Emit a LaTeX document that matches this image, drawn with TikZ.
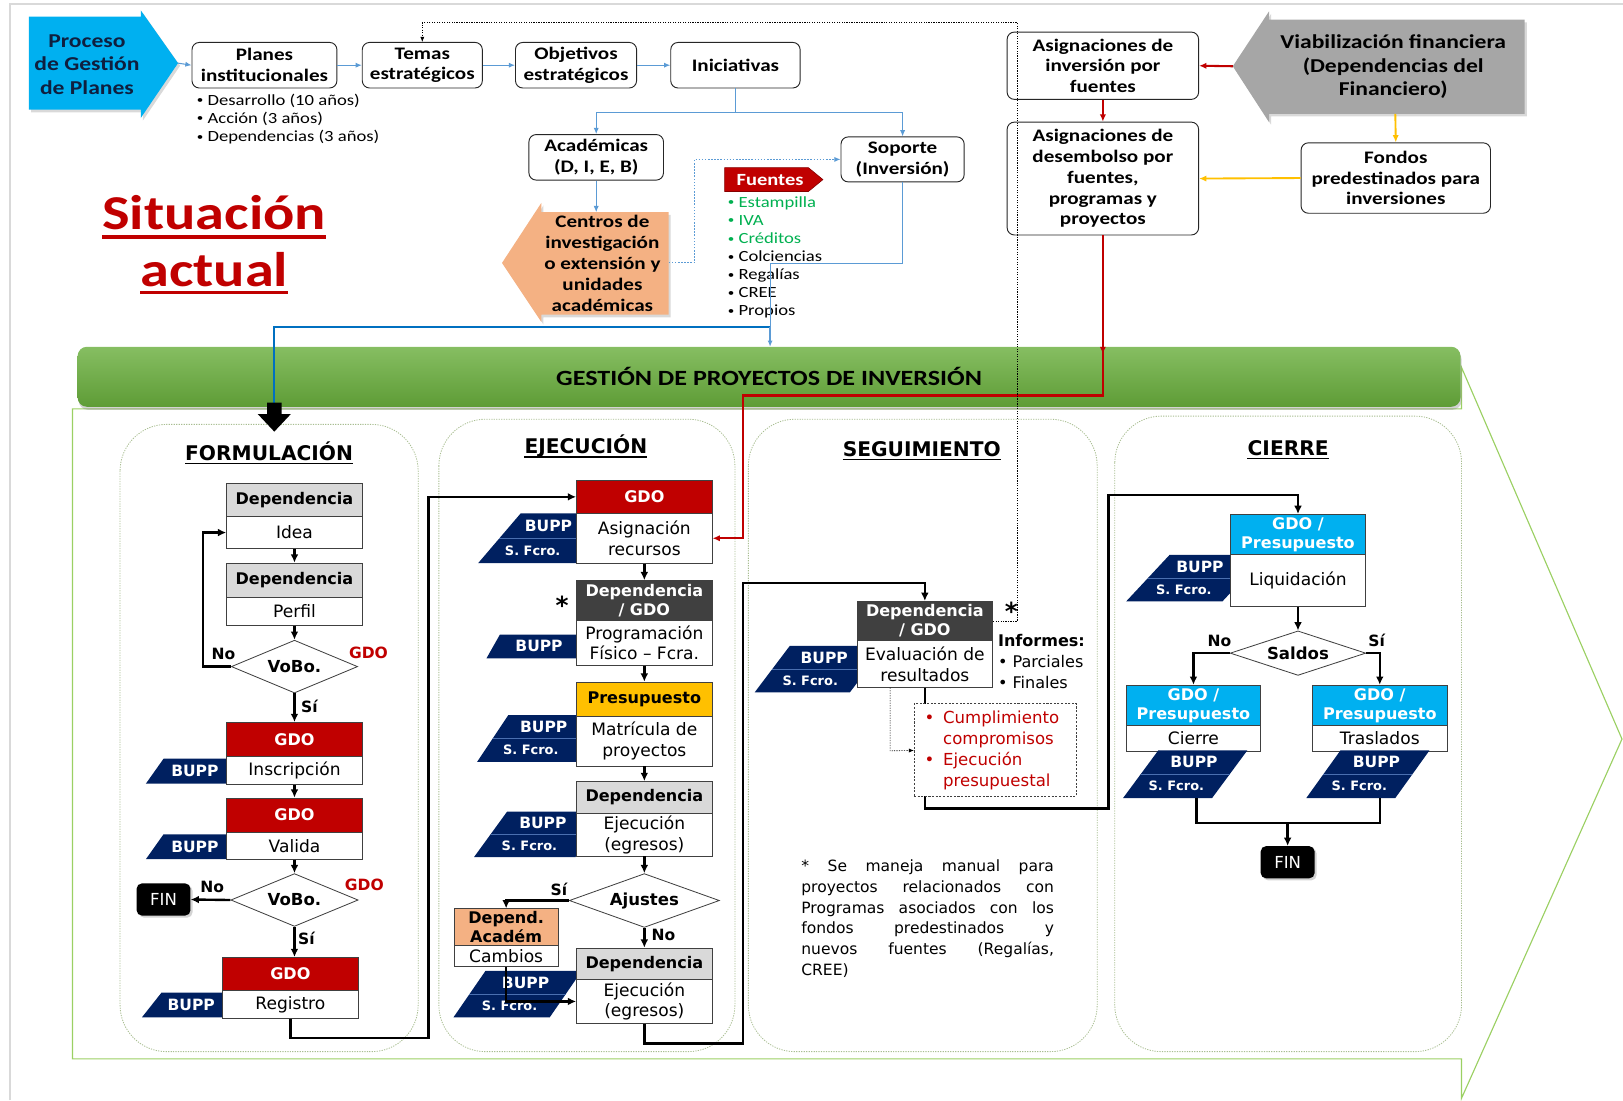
\documentclass[tikz,border=0pt]{standalone}
\usepackage{fontspec}
\setmainfont{Carlito}[FakeStretch=1.2]
\newfontfamily\verdfont{DejaVu Sans}
\usetikzlibrary{arrows.meta,shapes.geometric,shadows,calc}
\definecolor{cyanP}{HTML}{00B0F0}
\definecolor{redH}{HTML}{C00000}
\definecolor{grayH}{HTML}{D9D9D9}
\definecolor{darkH}{HTML}{404040}
\definecolor{yelH}{HTML}{FFC000}
\definecolor{navy}{HTML}{002060}
\definecolor{tagsepc}{HTML}{4A6FB0}
\definecolor{orangeA}{HTML}{F4B183}
\definecolor{greenT}{HTML}{00B050}
\definecolor{lblue}{HTML}{5B9BD5}
\definecolor{dblue}{HTML}{0070C0}
\definecolor{gbarT}{HTML}{86BE62}
\definecolor{gbarB}{HTML}{5E9C36}
\definecolor{gline}{HTML}{9BD063}
\definecolor{panel}{HTML}{A9BE92}
\definecolor{grayA}{HTML}{A6A6A6}
\definecolor{borderG}{HTML}{D9D9D9}
\definecolor{procT}{HTML}{0F1F3F}
\newcommand{\fsz}[2]{\fontsize{#1}{#2}\selectfont}
\newcommand{\sbul}{\raisebox{0.12em}{\scalebox{0.7}{•}}}
\tikzset{
 topbox/.style={draw=black!85, line width=0.9pt, rounded corners=7pt, fill=white, align=center, inner sep=0pt, font=\fsz{17}{20}\bfseries},
 barr/.style={draw=lblue, line width=1pt, -{Latex[length=6pt,width=5pt]}},
 blueline/.style={draw=lblue, line width=1pt},
 bluethick/.style={draw=dblue, line width=2.2pt},
 hdr/.style={draw=black!75, line width=0.8pt, inner sep=0pt, align=center, font=\verdfont\fsz{15.5}{18.5}\bfseries},
 hred/.style={hdr, fill=redH, text=white},
 hgray/.style={hdr, fill=grayH},
 hdark/.style={hdr, fill=darkH, text=white},
 hyel/.style={hdr, fill=yelH},
 hcyan/.style={hdr, fill=cyanP, text=white},
 horange/.style={hdr, fill=orangeA},
 bodybox/.style={draw=black!75, line width=0.8pt, fill=white, inner sep=0pt, align=center, font=\verdfont\fsz{16.5}{20}},
 flow/.style={draw=black, line width=2.3pt, -{Latex[length=8pt,width=7.5pt]}},
 flowline/.style={draw=black, line width=2.3pt},
 dia/.style={diamond, draw=black!75, line width=0.8pt, fill=white, inner sep=0pt, font=\verdfont\fsz{16}{19}\bfseries},
 lbl/.style={font=\verdfont\fsz{15}{18}\bfseries, inner sep=0pt},
 gdolbl/.style={lbl, text=redH},
 finbox/.style={fill=black, rounded corners=5pt, text=white, font=\verdfont\fsz{16}{19}, minimum width=52pt, minimum height=31pt, inner sep=0pt, drop shadow={opacity=0.35, shadow xshift=2pt, shadow yshift=-2pt}},
 tagA/.style={text=white, font=\verdfont\fsz{15}{18}\bfseries, inner sep=0pt},
 tagB/.style={text=white, font=\verdfont\fsz{12.5}{15}\bfseries, inner sep=0pt},
 tagsep/.style={draw=tagsepc, line width=0.8pt},
 panelbox/.style={draw=panel, dash pattern=on 1.2pt off 1.2pt, line width=0.8pt, rounded corners=45pt},
 sectitle/.style={font=\verdfont\fsz{19.5}{23}\bfseries, inner sep=0pt},
 redline/.style={draw=redH, line width=2.4pt},
 rarr/.style={draw=redH, line width=2pt, -{Latex[length=7pt,width=6pt]}},
 yarr/.style={draw=yelH, line width=1.8pt, -{Latex[length=7pt,width=6pt]}},
 dotline/.style={draw=black, line width=0.6pt, dash pattern=on 1.2pt off 1.2pt, -{Latex[length=5pt,width=4pt]}},
 softshadow/.style={drop shadow={opacity=0.3, shadow xshift=2pt, shadow yshift=-2.5pt}},
}
% two-part box: name, x1, x2, y1, ymid, y2, header style, header text, body text
\newcommand{\twobox}[9]{%
  \pgfmathsetmacro\tbw{#3-#2}%
  \pgfmathsetmacro\tbh{#5-#4}%
  \pgfmathsetmacro\tbb{#6-#5}%
  \pgfmathsetmacro\tbx{(#2+#3)/2}%
  \pgfmathsetmacro\tby{(#4+#5)/2}%
  \pgfmathsetmacro\tbz{(#5+#6)/2}%
  \node[#7, minimum width=\tbw pt, minimum height=\tbh pt] (#1h) at (\tbx,\tby) {#8};%
  \node[bodybox, minimum width=\tbw pt, minimum height=\tbb pt] (#1) at (\tbx,\tbz) {#9};%
}
% double tag: name, xtl, xbl, yt, yb, W, xr
\newcommand{\tagtwo}[7]{%
  \pgfmathsetmacro\tgm{(#4+#5)/2}%
  \pgfmathsetmacro\tgxa{#2+0.25*(#3-#2)}%
  \pgfmathsetmacro\tgxb{#2+0.75*(#3-#2)}%
  \pgfmathsetmacro\tgca{(\tgxa+min(\tgxa+#6,#7))/2+ifthenelse(\tgxa+#6>#7,5,0)}%
  \pgfmathsetmacro\tgcb{(\tgxb+min(\tgxb+#6,#7))/2}%
  \pgfmathsetmacro\tgya{(#4+\tgm)/2}%
  \pgfmathsetmacro\tgyb{(\tgm+#5)/2}%
  \fill[navy] (#2,#4) -- ({#2+#6},#4) -- ({#3+#6},#5) -- (#3,#5) -- cycle;
  \draw[tagsep] ({(#2+#3)/2},\tgm) -- ({(#2+#3)/2+#6},\tgm);
  \node[tagA] (#1a) at (\tgca,\tgya) {BUPP};
  \node[tagB] (#1b) at (\tgcb,\tgyb) {S. Fcro.};
}
% single tag: name, xtl, xbl, yt, yb, xr
\newcommand{\tagone}[6]{%
  \pgfmathsetmacro\tgc{((#2+#3)/2+#6)/2+4}%
  \pgfmathsetmacro\tgy{(#4+#5)/2}%
  \fill[navy] (#2,#4) -- ({#6+20},#4) -- (#6,#5) -- (#3,#5) -- cycle;
  \node[tagA] (#1) at (\tgc,\tgy) {BUPP};
}
\begin{document}
\begin{tikzpicture}[x=1pt,y=-1pt]
\useasboundingbox (0,0) rectangle (1568,1063);
% page border
\draw[borderG, line width=2pt] (10,1063) -- (10,4) -- (1568,4);
% big green outline arrow
\draw[gline, line width=1.1pt, line join=miter] (70,395) -- (1412,395) -- (1412,355) -- (1567,714) -- (1412,1061) -- (1412,1023) -- (70,1023) -- cycle;
% panels
\draw[panelbox] (116,410) rectangle (404,1016);
\draw[panelbox] (424,405) rectangle (710,1016);
\draw[panelbox] (723,405) rectangle (1060,1016);
\draw[panelbox] (1077,402) rectangle (1412,1016);
% green bar
\node[rounded corners=9pt, top color=gbarT, bottom color=gbarB, minimum width=1336pt, minimum height=58pt, inner sep=0pt, font=\fsz{21}{24}\bfseries, drop shadow={opacity=0.35,shadow xshift=1pt,shadow yshift=-3pt}] (bar) at (743,364) {GESTIÓN DE PROYECTOS DE INVERSIÓN};

% ---------- top part ----------
\path[fill=cyanP, softshadow] (28,16) -- (136,16) -- (136,10) -- (172,61) -- (136,114) -- (136,106) -- (28,106) -- cycle;
\node[font=\fsz{19}{22.5}\bfseries, text=procT, align=center, inner sep=0pt] (proc) at (84,62.5) {Proceso\\de Gestión\\de Planes};
\coordinate (proctip) at (172,61);

\node[topbox, minimum width=140pt, minimum height=44pt] (planes) at (255.5,63) {Planes\\institucionales};
\node[topbox, minimum width=116pt, minimum height=44pt] (temas) at (408,63) {Temas\\estratégicos};
\node[topbox, minimum width=117pt, minimum height=44pt] (obj) at (556.5,63) {Objetivos\\estratégicos};
\node[topbox, minimum width=125pt, minimum height=44pt] (inic) at (710.5,63) {Iniciativas};
\node[anchor=west, align=left, inner sep=0pt, font=\fsz{15}{17.8}] (planlist) at (190,115) {\sbul\ Desarrollo (10 años)\\\sbul\ Acción (3 años)\\\sbul\ Dependencias (3 años)};

\node[topbox, minimum width=130pt, minimum height=44pt] (acad) at (576,152) {Académicas\\(D, I, E, B)};
\node[topbox, minimum width=119pt, minimum height=43.5pt] (soporte) at (872,154) {Soporte\\(Inversión)};

\path[fill=orangeA, softshadow] (646,205) -- (646,304) -- (523,304) -- (523,311) -- (485,254) -- (523,196) -- (523,205) -- cycle;
\node[font=\fsz{17}{20.2}\bfseries, align=center, inner sep=0pt] (centros) at (582,254.5) {Centros de\\investigación\\o extensión y\\unidades\\académicas};
\coordinate (centrostop) at (576,205);
\coordinate (centrosR) at (646,254);

\path[fill=redH, draw=redH!70!black, line width=0.6pt] (700,162) -- (781,162) -- (795,173.5) -- (781,185) -- (700,185) -- cycle;
\node[font=\fsz{16.5}{19}\bfseries, text=white, inner sep=0pt] (fuentes) at (744,174) {Fuentes};
\node[anchor=west, align=left, inner sep=0pt, font=\fsz{15}{17.4}] (flist) at (703,249) {\textcolor{greenT}{\sbul\ Estampilla}\\\textcolor{greenT}{\sbul\ IVA}\\\textcolor{greenT}{\sbul\ Créditos}\\\sbul\ Colciencias\\\sbul\ Regalías\\\sbul\ CREE\\\sbul\ Propios};

% situacion actual
\node[font=\fsz{47}{55}\bfseries, text=redH, anchor=base, inner sep=0pt] (sit1) at (207,222) {Situación};
\node[font=\fsz{47}{55}\bfseries, text=redH, anchor=base, inner sep=0pt] (sit2) at (207,277) {actual};
\draw[redH, line width=3pt] ([yshift=-7pt]sit1.base west) -- ([yshift=-7pt]sit1.base east);
\draw[redH, line width=3pt] ([yshift=-6pt]sit2.base west) -- ([yshift=-6pt]sit2.base east);

% right top
\node[topbox, minimum width=185pt, minimum height=65pt] (asi) at (1065.5,63.5) {Asignaciones de\\inversión por\\fuentes};
\node[topbox, minimum width=185pt, minimum height=109pt] (asd) at (1065.5,172.5) {Asignaciones de\\desembolso por\\fuentes,\\programas y\\proyectos};
\path[fill=grayA, softshadow] (1473,19) -- (1226,19) -- (1226,11) -- (1191,64) -- (1226,118) -- (1226,110) -- (1473,110) -- cycle;
\node[font=\fsz{19}{22.5}\bfseries, align=center, inner sep=0pt] (viab) at (1346,64.5) {Viabilización financiera\\(Dependencias del\\Financiero)};
\coordinate (viabtip) at (1191,64);
\coordinate (viabbot) at (1348,110);
\node[topbox, minimum width=183pt, minimum height=68pt] (fondos) at (1348.5,172) {Fondos\\predestinados para\\inversiones};

% top connectors
\draw[barr] (proctip) -- (planes.west);
\draw[barr] (planes.east) -- (temas.west);
\draw[barr] (temas.east) -- (obj.west);
\draw[barr] (obj.east) -- (inic.west);
\draw[blueline] (inic.south) -- (710.5,109);
\draw[barr] (710.5,109) -| (acad.north);
\draw[barr] (710.5,109) -| (soporte.north);
\draw[barr] (acad.south) -- (centrostop);
\draw[barr, dash pattern=on 1.5pt off 1.5pt] (centrosR) -- (671,254) |- (soporte.west);
\draw[blueline] (soporte.south) |- (744,255) -- (744,316);
\draw[bluethick] (744,316) -| (265,392);
\coordinate (barin) at (744,335);
\draw[barr, line width=1.3pt] (744,316) -- (barin);
\fill[black] (258,389) -- (272,389) -- (272,400) -- (281,400) -- (265,417) -- (249,400) -- (258,400) -- cycle;

\draw[rarr] (viabtip) -- (asi.east);
\draw[rarr] (asi.south) -- (asd.north);
\draw[yarr] (viabbot) -- (fondos.north);
\draw[yarr] (fondos.west) -- (asd.east);

% ---------- section titles ----------
\node[sectitle, anchor=base] (tform) at (260,445) {FORMULACIÓN};
\draw[line width=1.5pt] ([yshift=-3pt]tform.base west) -- ([yshift=-3pt]tform.base east);
\node[sectitle, anchor=base] (tejec) at (566,438.5) {EJECUCIÓN};
\draw[line width=1.5pt] ([yshift=-3pt]tejec.base west) -- ([yshift=-3pt]tejec.base east);
\node[sectitle, anchor=base] (tseg) at (890.5,441) {SEGUIMIENTO};
\draw[line width=1.5pt] ([yshift=-3pt]tseg.base west) -- ([yshift=-3pt]tseg.base east);
\node[sectitle, anchor=base] (tcie) at (1244.5,440) {CIERRE};
\draw[line width=1.5pt] ([yshift=-3pt]tcie.base west) -- ([yshift=-3pt]tcie.base east);

% ---------- tags behind boxes ----------
\tagone{ta}{158}{141}{733}{757}{219}
\tagone{tb}{158}{141}{806}{830}{219}
\tagone{tc}{156}{137}{959}{983}{215}
\tagtwo{td}{503}{462}{496}{544}{95}{557}
\tagone{te}{483}{470}{613}{636}{557}
\tagtwo{tf}{491}{461}{691}{736}{96}{557}
\tagtwo{tg}{490}{458}{784}{828}{98}{557}
\tagtwo{th}{469}{438}{938}{983}{93}{557}
\tagtwo{ti}{763}{729}{624}{669}{92}{828}
\tagtwo{tj}{1130}{1088}{536}{581}{93}{1189}

% ---------- boxes ----------
\twobox{fa}{219}{350}{467}{499}{530}{hgray}{Dependencia}{Idea}
\twobox{fb}{219}{350}{544}{577}{604}{hgray}{Dependencia}{Perfil}
\twobox{fc}{219}{350}{698}{731}{758}{hred}{GDO}{Inscripción}
\twobox{fd}{219}{350}{771}{804}{830}{hred}{GDO}{Valida}
\twobox{fe}{215}{346}{925}{957}{984}{hred}{GDO}{Registro}
\twobox{ea}{557}{688}{464}{496}{544}{hred}{GDO}{Asignación\\recursos}
\twobox{eb}{557}{688}{561}{599}{643}{hdark}{Dependencia\\/ GDO}{Programación\\Físico – Fcra.}
\twobox{ec}{557}{688}{659}{692}{740}{hyel}{Presupuesto}{Matrícula de\\proyectos}
\twobox{ed}{557}{688}{755}{786}{827}{hgray}{Dependencia}{Ejecución\\(egresos)}
\twobox{ef}{439}{539}{878}{913}{934}{horange}{Depend.\\Académ}{Cambios}
\twobox{ee}{557}{688}{916}{946}{989}{hgray}{Dependencia}{Ejecución\\(egresos)}
\twobox{sa}{828}{959}{581}{619}{664}{hdark}{Dependencia\\/ GDO}{Evaluación de\\resultados}
\twobox{ca}{1189}{1319}{497}{536}{586}{hcyan}{GDO /\\Presupuesto}{Liquidación}
\twobox{cb}{1088}{1218}{662}{701}{726}{hcyan}{GDO /\\Presupuesto}{Cierre}
\twobox{cc}{1268}{1398}{662}{701}{726}{hcyan}{GDO /\\Presupuesto}{Traslados}

\tagtwo{tk}{1119}{1085}{725}{771}{86}{9999}
\tagtwo{tl}{1295}{1262}{725}{771}{86}{9999}

% diamonds and FIN
\node[dia, minimum width=122pt, minimum height=51pt, aspect=2.4] (da) at (284.5,644) {VoBo.};
\node[dia, minimum width=123pt, minimum height=51pt, aspect=2.4] (db) at (284.5,869.5) {VoBo.};
\node[dia, minimum width=145pt, minimum height=52pt, aspect=2.8] (dc) at (622.5,870) {Ajustes};
\node[dia, minimum width=131pt, minimum height=43pt, aspect=3] (dd) at (1254,631) {Saldos};
\node[finbox] (fin1) at (158,869) {FIN};
\node[finbox] (fin2) at (1244,833) {FIN};

% labels
\node[lbl] (l1) at (216,632) {No};
\node[gdolbl] (l2) at (356,631) {GDO};
\node[lbl] (l3) at (299,682) {Sí};
\node[lbl] (l4) at (205,857) {No};
\node[gdolbl] (l5) at (352,855) {GDO};
\node[lbl] (l6) at (296,907) {Sí};
\node[lbl] (l7) at (540,859) {Sí};
\node[lbl] (l8) at (641,903) {No};
\node[lbl] (l9) at (1178,619) {No};
\node[lbl] (l10) at (1330,619) {Sí};
\node[font=\verdfont\fsz{24}{24}\bfseries, inner sep=0pt] (stara) at (543,585) {*};
\node[font=\verdfont\fsz{24}{24}\bfseries, inner sep=0pt] (starb) at (977,591) {*};
\node[anchor=west, align=left, inner sep=0pt, font=\verdfont\fsz{15.5}{20}] (informes) at (964,639) {\textbf{Informes:}\\• Parciales\\• Finales};

% ---------- connectors bottom ----------
\draw[flow] (fa.south) -- (fbh.north);
\draw[flow] (fb.south) -- (da.north);
\draw[flow] (da.south) -- (fch.north);
\draw[flow] (da.west) -- (196,644) -- (196,514.5) -- (fa.west);
\draw[flow] (fc.south) -- (fdh.north);
\draw[flow] (fd.south) -- (db.north);
\draw[flow] (db.south) -- (db.south |- feh.north);
\draw[flow] (db.west) -- (fin1.east);
\draw[flow] (fe.south) |- (414,1003) -- (414,480) -- (eah.west);

\draw[flow] (ea.south) -- (ebh.north);
\draw[flow] (eb.south) -- (ech.north);
\draw[flow] (ec.south) -- (edh.north);
\draw[flow] (ed.south) -- (dc.north);
\draw[flow] (dc.south) -- (eeh.north);
\draw[flow] (dc.west) -| (efh.north);
\draw[flow] (ef.south) |- (ee.west);
\draw[flow] (ee.south) |- (718,1008) -- (718,563) -| (sah.north);

\draw[flow] (sa.south) |- (1071,781) -- (1071,478) -| (cah.north);
\draw[dotline] ($(sa.south west)!0.245!(sa.south east)$) -- ++(0,61) -- (883,725);
\node[draw=black!75, dash pattern=on 2pt off 1.5pt, line width=0.8pt, fill=white, minimum width=157pt, minimum height=89pt, inner sep=0pt] (cumpl) at (961.5,724.5) {};
\node[anchor=west, align=left, inner sep=0pt, text=redH, font=\verdfont\fsz{16}{20.2}] (cumpltxt) at (893,725) {\makebox[18pt][l]{•}Cumplimiento\\\makebox[18pt][l]{}compromisos\\\makebox[18pt][l]{•}Ejecución\\\makebox[18pt][l]{}presupuestal};

\draw[flow] (ca.south) -- (dd.north);
\draw[flow] (dd.west) -| (cbh.north);
\draw[flow] (dd.east) -| (cch.north);
\coordinate (tkbot) at (1156,771);
\coordinate (tlbot) at (1333,771);
\coordinate (cjoin) at (1244,795);
\draw[flowline] (tkbot) |- (tlbot |- cjoin) -- (tlbot);
\draw[flow] (cjoin) -- (fin2.north);

% red main connector
\draw[redline, -{Latex[length=7pt,width=6pt]}] (asd.south) -- (1065.5,342);
\draw[redline, -{Latex[length=7pt,width=6pt]}] (1065.5,336) |- (718,382) |- (ea.east);

% dotted feedback
\draw[dotline] (sah.east) -- (983,600) -- (983,22) -| (temas.north);

% note
\node[anchor=west, align=left, inner sep=0pt, font=\verdfont\fsz{15}{20.2}] (nota) at (774,887.5) {\makebox[244pt][s]{* Se maneja manual para}\\\makebox[244pt][s]{proyectos relacionados con}\\\makebox[244pt][s]{Programas asociados con los}\\\makebox[244pt][s]{fondos predestinados y}\\\makebox[244pt][s]{nuevos fuentes (Regalías,}\\CREE)};
\end{tikzpicture}
\end{document}
